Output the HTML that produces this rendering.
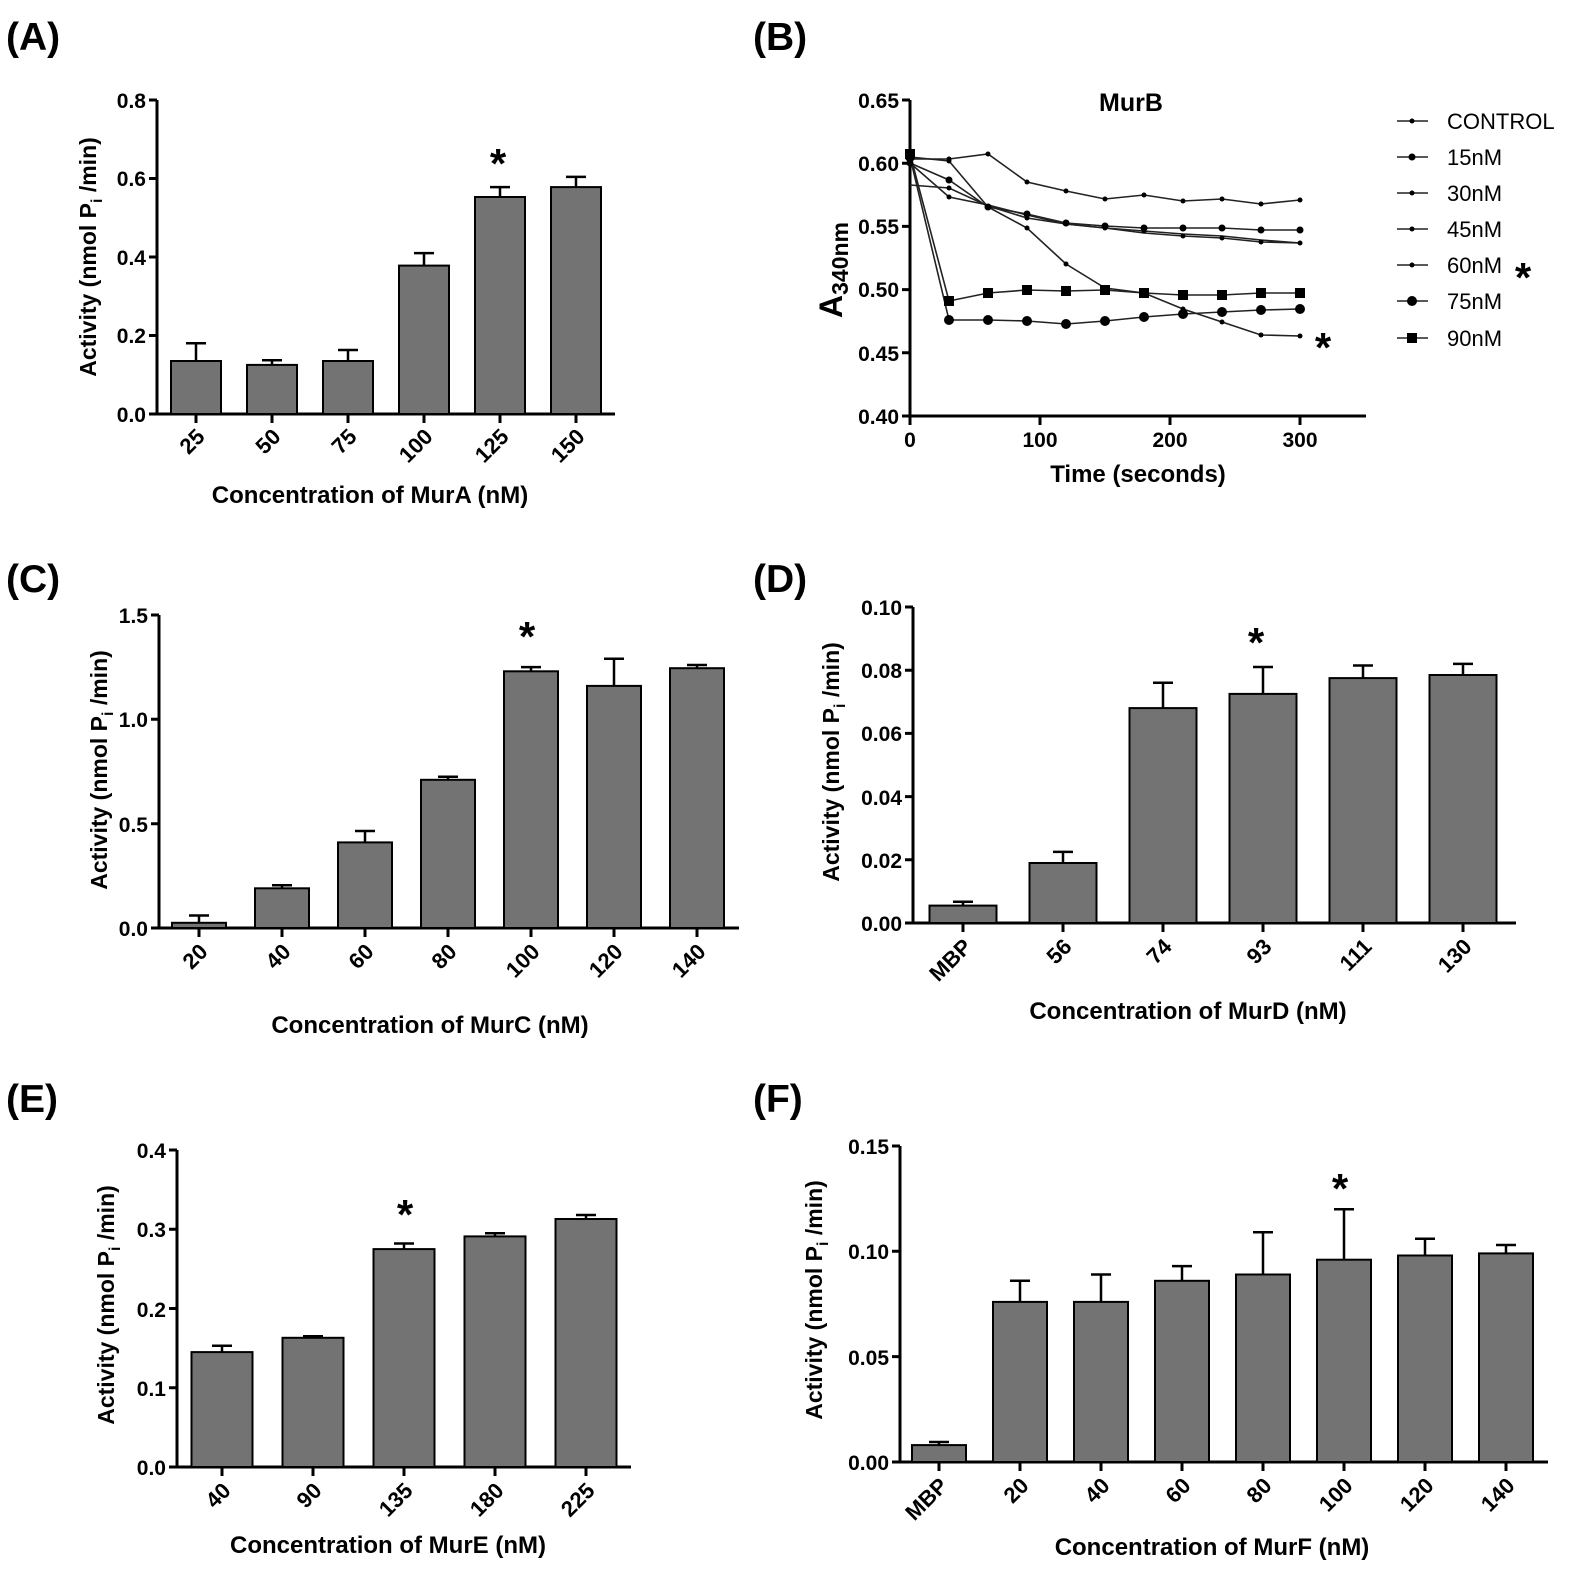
<!DOCTYPE html>
<html><head><meta charset="utf-8"><style>
body{margin:0;background:#fff}
svg{display:block;font-family:"Liberation Sans",sans-serif;font-weight:bold}
.ax{stroke:#000;stroke-width:3;fill:none}
.bar{fill:#737373;stroke:#000;stroke-width:2}
.eb{stroke:#000;stroke-width:2.5;fill:none}
.yt{font-size:21px;text-anchor:end}
.xt{font-size:22px;text-anchor:end}
.pl{font-size:39px}
.xl{font-size:24px;text-anchor:middle}
.yl{font-size:23px;text-anchor:middle}
.st{font-size:42px;text-anchor:middle}
.ln{stroke:#222;stroke-width:1.6;fill:none}
</style></head><body>
<svg width="1575" height="1573" viewBox="0 0 1575 1573">
<text class="pl" x="6" y="50">(A)</text>
<text class="pl" x="753" y="50">(B)</text>
<text class="pl" x="6" y="592">(C)</text>
<text class="pl" x="753" y="592">(D)</text>
<text class="pl" x="6" y="1112">(E)</text>
<text class="pl" x="753" y="1112">(F)</text>

<!-- A -->
<g>
<path class="ax" d="M157 100V414H615 M149 100H157 M149 335.5H157 M149 257H157 M149 178.5H157 M149 414H157"/>
<path class="ax" d="M196 414v9M272 414v9M348 414v9M424 414v9M500 414v9M576 414v9"/>
<text class="yt" x="146" y="422">0.0</text><text class="yt" x="146" y="343">0.2</text><text class="yt" x="146" y="265">0.4</text><text class="yt" x="146" y="186">0.6</text><text class="yt" x="146" y="108">0.8</text>
<rect class="bar" x="171" y="361" width="50" height="53"/>
<rect class="bar" x="247" y="364.9" width="50" height="49.1"/>
<rect class="bar" x="323" y="361" width="50" height="53"/>
<rect class="bar" x="399" y="265.6" width="50" height="148.4"/>
<rect class="bar" x="475" y="197" width="50" height="217"/>
<rect class="bar" x="551" y="187.1" width="50" height="226.9"/>
<path class="eb" d="M196 361V343.3M186 343.3H206 M272 364.9V360.2M262 360.2H282 M348 361V350M338 350H358 M424 265.6V253.1M414 253.1H434 M500 197V187.1M490 187.1H510 M576 187.1V176.9M566 176.9H586"/>
<text class="st" x="498" y="178">*</text>
<g class="xt">
<text transform="translate(206,438) rotate(-45)">25</text>
<text transform="translate(282,438) rotate(-45)">50</text>
<text transform="translate(358,438) rotate(-45)">75</text>
<text transform="translate(434,438) rotate(-45)">100</text>
<text transform="translate(510,438) rotate(-45)">125</text>
<text transform="translate(586,438) rotate(-45)">150</text>
</g>
<text class="xl" x="370" y="503">Concentration of MurA (nM)</text>
<text class="yl" transform="translate(96,257) rotate(-90)">Activity (nmol P<tspan font-size="16" dy="6">i</tspan><tspan dy="-6"> /min)</tspan></text>
</g>

<!-- B -->
<g>
<path class="ax" d="M910 100V416H1366 M902 100H910 M902 163.2H910 M902 226.4H910 M902 289.6H910 M902 352.8H910 M902 416H910 M910 416v9M1040 416v9M1170 416v9M1300 416v9"/>
<text class="yt" x="899" y="108">0.65</text><text class="yt" x="899" y="171">0.60</text><text class="yt" x="899" y="234">0.55</text><text class="yt" x="899" y="297">0.50</text><text class="yt" x="899" y="361">0.45</text><text class="yt" x="899" y="424">0.40</text>
<g font-size="21" text-anchor="middle"><text x="910" y="447">0</text><text x="1040" y="447">100</text><text x="1170" y="447">200</text><text x="1300" y="447">300</text></g>
<text class="xl" x="1138" y="482">Time (seconds)</text>
<text font-size="25" x="1131" y="111" text-anchor="middle">MurB</text>
<text font-size="32" transform="translate(842,318) rotate(-90)">A<tspan font-size="23" dy="6">340nm</tspan></text>
<polyline class="ln" points="910,159 949,159 988,154 1027,182 1066,191 1105,199 1144,195 1183,201 1222,199 1261,204 1300,200"/>
<polyline class="ln" points="910,163 949,180 988,207 1027,214 1066,223 1105,226 1144,228 1183,228 1222,228 1261,230 1300,230"/>
<polyline class="ln" points="910,185 949,188 988,206 1027,218 1066,224 1105,228 1144,233 1183,236 1222,238 1261,242 1300,243"/>
<polyline class="ln" points="910,163 949,197 988,205 1027,215 1066,224 1105,228 1144,231 1183,234 1222,236 1261,240 1300,243"/>
<polyline class="ln" points="910,157 949,161 988,207 1027,228 1066,264 1105,288 1144,293 1183,309 1222,322 1261,335 1300,336"/>
<polyline class="ln" points="910,157 949,320 988,320 1027,321 1066,324 1105,321 1144,317 1183,314 1222,312 1261,310 1300,309"/>
<polyline class="ln" points="910,154 949,301 988,293 1027,290 1066,291 1105,290 1144,293 1183,295 1222,295 1261,293 1300,293"/>
<g fill="#000">
<circle cx="949" cy="159" r="2.5"/><circle cx="988" cy="154" r="2.5"/><circle cx="1027" cy="182" r="2.5"/><circle cx="1066" cy="191" r="2.5"/><circle cx="1105" cy="199" r="2.5"/><circle cx="1144" cy="195" r="2.5"/><circle cx="1183" cy="201" r="2.5"/><circle cx="1222" cy="199" r="2.5"/><circle cx="1261" cy="204" r="2.5"/><circle cx="1300" cy="200" r="2.5"/>
<circle cx="949" cy="188" r="2.5"/><circle cx="1027" cy="218" r="2.5"/><circle cx="1105" cy="228" r="2.5"/><circle cx="1183" cy="236" r="2.5"/><circle cx="1222" cy="238" r="2.5"/><circle cx="1261" cy="242" r="2.5"/><circle cx="1300" cy="243" r="2.5"/>
<circle cx="949" cy="197" r="2.5"/><circle cx="1066" cy="224" r="2.5"/><circle cx="1144" cy="231" r="2.5"/>
<circle cx="949" cy="161" r="2.5"/><circle cx="1027" cy="228" r="2.5"/><circle cx="1066" cy="264" r="2.5"/><circle cx="1105" cy="288" r="2.5"/><circle cx="1183" cy="309" r="2.5"/><circle cx="1222" cy="322" r="2.5"/><circle cx="1261" cy="335" r="2.5"/><circle cx="1300" cy="336" r="2.5"/>
<circle cx="910" cy="163" r="3.5"/><circle cx="949" cy="180" r="3.5"/><circle cx="988" cy="207" r="3.5"/><circle cx="1027" cy="214" r="3.5"/><circle cx="1066" cy="223" r="3.5"/><circle cx="1105" cy="226" r="3.5"/><circle cx="1144" cy="228" r="3.5"/><circle cx="1183" cy="228" r="3.5"/><circle cx="1222" cy="228" r="3.5"/><circle cx="1261" cy="230" r="3.5"/><circle cx="1300" cy="230" r="3.5"/>
<circle cx="910" cy="157" r="5"/><circle cx="949" cy="320" r="5"/><circle cx="988" cy="320" r="5"/><circle cx="1027" cy="321" r="5"/><circle cx="1066" cy="324" r="5"/><circle cx="1105" cy="321" r="5"/><circle cx="1144" cy="317" r="5"/><circle cx="1183" cy="314" r="5"/><circle cx="1222" cy="312" r="5"/><circle cx="1261" cy="310" r="5"/><circle cx="1300" cy="309" r="5"/>
<rect x="905" y="149" width="10" height="10"/><rect x="944" y="296" width="10" height="10"/><rect x="983" y="288" width="10" height="10"/><rect x="1022" y="285" width="10" height="10"/><rect x="1061" y="286" width="10" height="10"/><rect x="1100" y="285" width="10" height="10"/><rect x="1139" y="288" width="10" height="10"/><rect x="1178" y="290" width="10" height="10"/><rect x="1217" y="290" width="10" height="10"/><rect x="1256" y="288" width="10" height="10"/><rect x="1295" y="288" width="10" height="10"/>
</g>
<text class="st" x="1323" y="362">*</text>
<g font-size="22" font-weight="normal">
<path class="ln" d="M1397 121H1428M1397 157H1428M1397 193H1428M1397 229H1428M1397 265H1428M1397 301H1428M1397 338H1428"/>
<circle cx="1412" cy="121" r="2.5"/><circle cx="1412" cy="157" r="3.5"/><circle cx="1412" cy="193" r="2.5"/><circle cx="1412" cy="229" r="2.5"/><circle cx="1412" cy="265" r="2.5"/><circle cx="1412" cy="301" r="5"/><rect x="1407" y="333" width="10" height="10"/>
<text x="1447" y="129">CONTROL</text><text x="1447" y="165">15nM</text><text x="1447" y="201">30nM</text><text x="1447" y="237">45nM</text><text x="1447" y="273">60nM</text><text x="1447" y="309">75nM</text><text x="1447" y="346">90nM</text>
</g>
<text class="st" x="1523" y="292">*</text>
</g>

<!-- C -->
<g>
<path class="ax" d="M159 615V928H739 M151 615H159 M151 719.3H159 M151 823.7H159 M151 928H159"/>
<path class="ax" d="M199 928v9M282 928v9M365 928v9M448 928v9M531 928v9M614 928v9M697 928v9"/>
<text class="yt" x="148" y="936">0.0</text><text class="yt" x="148" y="832">0.5</text><text class="yt" x="148" y="727">1.0</text><text class="yt" x="148" y="623">1.5</text>
<rect class="bar" x="172" y="922.8" width="54" height="5.2"/>
<rect class="bar" x="255" y="888.3" width="54" height="39.7"/>
<rect class="bar" x="338" y="842.4" width="54" height="85.6"/>
<rect class="bar" x="421" y="779.8" width="54" height="148.2"/>
<rect class="bar" x="504" y="671.3" width="54" height="256.7"/>
<rect class="bar" x="587" y="685.9" width="54" height="242.1"/>
<rect class="bar" x="670" y="668.2" width="54" height="259.8"/>
<path class="eb" d="M199 922.8V915.5M189 915.5H209 M282 888.3V885.2M272 885.2H292 M365 842.4V831M355 831H375 M448 779.8V776.7M438 776.7H458 M531 671.3V667.1M521 667.1H541 M614 685.9V658.8M604 658.8H624 M697 668.2V665M687 665H707"/>
<text class="st" x="527" y="651">*</text>
<g class="xt">
<text transform="translate(209,953) rotate(-45)">20</text>
<text transform="translate(292,953) rotate(-45)">40</text>
<text transform="translate(375,953) rotate(-45)">60</text>
<text transform="translate(458,953) rotate(-45)">80</text>
<text transform="translate(541,953) rotate(-45)">100</text>
<text transform="translate(624,953) rotate(-45)">120</text>
<text transform="translate(707,953) rotate(-45)">140</text>
</g>
<text class="xl" x="430" y="1033">Concentration of MurC (nM)</text>
<text class="yl" transform="translate(107,770) rotate(-90)">Activity (nmol P<tspan font-size="16" dy="6">i</tspan><tspan dy="-6"> /min)</tspan></text>
</g>

<!-- D -->
<g>
<path class="ax" d="M913 607V923H1516 M905 607H913 M905 670.2H913 M905 733.4H913 M905 796.6H913 M905 859.8H913 M905 923H913"/>
<path class="ax" d="M963 923v9M1063 923v9M1163 923v9M1263 923v9M1363 923v9M1463 923v9"/>
<text class="yt" x="902" y="931">0.00</text><text class="yt" x="902" y="868">0.02</text><text class="yt" x="902" y="805">0.04</text><text class="yt" x="902" y="741">0.06</text><text class="yt" x="902" y="678">0.08</text><text class="yt" x="902" y="615">0.10</text>
<rect class="bar" x="929.5" y="905.6" width="67" height="17.4"/>
<rect class="bar" x="1029.5" y="863" width="67" height="60"/>
<rect class="bar" x="1129.5" y="708.1" width="67" height="214.9"/>
<rect class="bar" x="1229.5" y="693.9" width="67" height="229.1"/>
<rect class="bar" x="1329.5" y="678.1" width="67" height="244.9"/>
<rect class="bar" x="1429.5" y="675" width="67" height="248"/>
<path class="eb" d="M963 905.6V901.8M953 901.8H973 M1063 863V851.9M1053 851.9H1073 M1163 708.1V682.8M1153 682.8H1173 M1263 693.9V667M1253 667H1273 M1363 678.1V665.5M1353 665.5H1373 M1463 675V663.9M1453 663.9H1473"/>
<text class="st" x="1256" y="657">*</text>
<g class="xt">
<text transform="translate(973,948) rotate(-45)">MBP</text>
<text transform="translate(1073,948) rotate(-45)">56</text>
<text transform="translate(1173,948) rotate(-45)">74</text>
<text transform="translate(1273,948) rotate(-45)">93</text>
<text transform="translate(1373,948) rotate(-45)">111</text>
<text transform="translate(1473,948) rotate(-45)">130</text>
</g>
<text class="xl" x="1188" y="1019">Concentration of MurD (nM)</text>
<text class="yl" transform="translate(839,762) rotate(-90)">Activity (nmol P<tspan font-size="16" dy="6">i</tspan><tspan dy="-6"> /min)</tspan></text>
</g>

<!-- E -->
<g>
<path class="ax" d="M177 1150V1467H631 M169 1150H177 M169 1229.25H177 M169 1308.5H177 M169 1387.75H177 M169 1467H177"/>
<path class="ax" d="M222 1467v9M313 1467v9M404 1467v9M495 1467v9M586 1467v9"/>
<text class="yt" x="166" y="1475">0.0</text><text class="yt" x="166" y="1396">0.1</text><text class="yt" x="166" y="1317">0.2</text><text class="yt" x="166" y="1237">0.3</text><text class="yt" x="166" y="1158">0.4</text>
<rect class="bar" x="191.5" y="1352.1" width="61" height="114.9"/>
<rect class="bar" x="282.5" y="1337.8" width="61" height="129.2"/>
<rect class="bar" x="373.5" y="1249.1" width="61" height="217.9"/>
<rect class="bar" x="464.5" y="1236.4" width="61" height="230.6"/>
<rect class="bar" x="555.5" y="1219" width="61" height="248"/>
<path class="eb" d="M222 1352.1V1345.7M212 1345.7H232 M313 1337.8V1336.2M303 1336.2H323 M404 1249.1V1243.5M394 1243.5H414 M495 1236.4V1233.2M485 1233.2H505 M586 1219V1215M576 1215H596"/>
<text class="st" x="405" y="1229">*</text>
<g class="xt">
<text transform="translate(232,1492) rotate(-45)">40</text>
<text transform="translate(323,1492) rotate(-45)">90</text>
<text transform="translate(414,1492) rotate(-45)">135</text>
<text transform="translate(505,1492) rotate(-45)">180</text>
<text transform="translate(596,1492) rotate(-45)">225</text>
</g>
<text class="xl" x="388" y="1553">Concentration of MurE (nM)</text>
<text class="yl" transform="translate(114,1305) rotate(-90)">Activity (nmol P<tspan font-size="16" dy="6">i</tspan><tspan dy="-6"> /min)</tspan></text>
</g>

<!-- F -->
<g>
<path class="ax" d="M900 1146V1462H1548 M892 1146H900 M892 1251.3H900 M892 1356.65H900 M892 1462H900"/>
<path class="ax" d="M939 1462v9M1020 1462v9M1101 1462v9M1182 1462v9M1263 1462v9M1344 1462v9M1425 1462v9M1506 1462v9"/>
<text class="yt" x="889" y="1470">0.00</text><text class="yt" x="889" y="1365">0.05</text><text class="yt" x="889" y="1259">0.10</text><text class="yt" x="889" y="1154">0.15</text>
<rect class="bar" x="912" y="1445.1" width="54" height="16.9"/>
<rect class="bar" x="993" y="1301.9" width="54" height="160.1"/>
<rect class="bar" x="1074" y="1301.9" width="54" height="160.1"/>
<rect class="bar" x="1155" y="1280.8" width="54" height="181.2"/>
<rect class="bar" x="1236" y="1274.5" width="54" height="187.5"/>
<rect class="bar" x="1317" y="1259.7" width="54" height="202.3"/>
<rect class="bar" x="1398" y="1255.5" width="54" height="206.5"/>
<rect class="bar" x="1479" y="1253.4" width="54" height="208.6"/>
<path class="eb" d="M939 1445.1V1442M929 1442H949 M1020 1301.9V1280.8M1010 1280.8H1030 M1101 1301.9V1274.5M1091 1274.5H1111 M1182 1280.8V1266.1M1172 1266.1H1192 M1263 1274.5V1232.3M1253 1232.3H1273 M1344 1259.7V1209.2M1334 1209.2H1354 M1425 1255.5V1238.7M1415 1238.7H1435 M1506 1253.4V1245M1496 1245H1516"/>
<text class="st" x="1340" y="1203">*</text>
<g class="xt">
<text transform="translate(949,1487) rotate(-45)">MBP</text>
<text transform="translate(1030,1487) rotate(-45)">20</text>
<text transform="translate(1111,1487) rotate(-45)">40</text>
<text transform="translate(1192,1487) rotate(-45)">60</text>
<text transform="translate(1273,1487) rotate(-45)">80</text>
<text transform="translate(1354,1487) rotate(-45)">100</text>
<text transform="translate(1435,1487) rotate(-45)">120</text>
<text transform="translate(1516,1487) rotate(-45)">140</text>
</g>
<text class="xl" x="1212" y="1555">Concentration of MurF (nM)</text>
<text class="yl" transform="translate(822,1300) rotate(-90)">Activity (nmol P<tspan font-size="16" dy="6">i</tspan><tspan dy="-6"> /min)</tspan></text>
</g>
</svg>
</body></html>
